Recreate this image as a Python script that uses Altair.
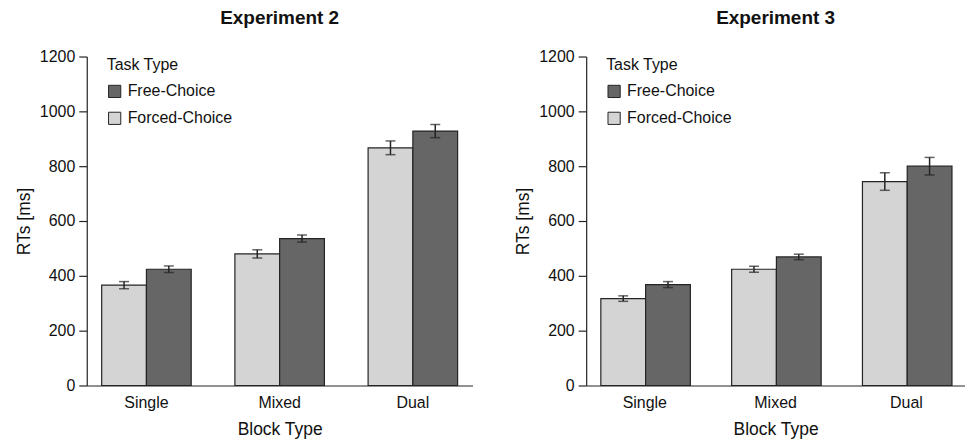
import altair as alt
import pandas as pd

blocks = ["Single", "Mixed", "Dual"]
tasks = ["Forced-Choice", "Free-Choice"]
legend_order = ["Free-Choice", "Forced-Choice"]

exp2_forced = [366, 480, 867]
exp2_free = [424, 536, 928]
exp2_forced_err = [13, 15, 25]
exp2_free_err = [12, 13, 24]

exp3_forced = [317, 424, 744]
exp3_free = [368, 469, 800]
exp3_forced_err = [10, 11, 32]
exp3_free_err = [11, 10, 32]

DARK = "#666666"
LIGHT = "#d4d4d4"
INK = "#242424"
FONT = "Liberation Sans"


def make_df(forced, free, forced_err, free_err):
    rows = []
    for i, b in enumerate(blocks):
        rows.append({"Block": b, "Task": "Forced-Choice", "RT": forced[i],
                     "lo": forced[i] - forced_err[i], "hi": forced[i] + forced_err[i]})
        rows.append({"Block": b, "Task": "Free-Choice", "RT": free[i],
                     "lo": free[i] - free_err[i], "hi": free[i] + free_err[i]})
    return pd.DataFrame(rows)


def panel(df, title, width):
    yscale = alt.Scale(domain=[0, 1200], nice=False)
    yaxis = alt.Axis(title="RTs [ms]", values=list(range(0, 1201, 200)), format="d",
                     grid=False, tickSize=8, labelPadding=4, titlePadding=6)
    base = alt.Chart(df).encode(
        x=alt.X("Block:N", sort=blocks,
                scale=alt.Scale(paddingInner=0.328, paddingOuter=0.112),
                axis=alt.Axis(title="Block Type", labelAngle=0, ticks=False,
                              labelPadding=9, titlePadding=10)),
        xOffset=alt.XOffset("Task:N", sort=tasks,
                            scale=alt.Scale(paddingInner=0, paddingOuter=0)),
    )
    bars = base.mark_bar(stroke=INK, strokeWidth=1.2).encode(
        y=alt.Y("RT:Q", scale=yscale, axis=yaxis, title="RTs [ms]"),
        color=alt.Color("Task:N",
                        scale=alt.Scale(domain=legend_order, range=[DARK, LIGHT]),
                        legend=alt.Legend(title="Task Type", orient="none",
                                          legendX=20, legendY=1,
                                          symbolType="square", symbolSize=150,
                                          symbolStrokeColor=INK, symbolStrokeWidth=1,
                                          symbolOpacity=1,
                                          rowPadding=9, titlePadding=10,
                                          labelOffset=5)),
    )
    rules = base.mark_rule(color=INK, strokeWidth=1.5).encode(
        y=alt.Y("lo:Q", scale=yscale, axis=yaxis, title="RTs [ms]"), y2="hi:Q")
    cap_lo = base.mark_tick(color=INK, thickness=1.5, size=10).encode(
        y=alt.Y("lo:Q", scale=yscale, axis=yaxis, title="RTs [ms]"))
    cap_hi = base.mark_tick(color=INK, thickness=1.5, size=10).encode(
        y=alt.Y("hi:Q", scale=yscale, axis=yaxis, title="RTs [ms]"))
    return alt.layer(bars, rules, cap_lo, cap_hi).properties(
        width=width, height=330,
        title=alt.TitleParams(title, fontSize=19, fontWeight="bold",
                              anchor="middle", offset=21, color="#111"))


df2 = make_df(exp2_forced, exp2_free, exp2_forced_err, exp2_free_err)
df3 = make_df(exp3_forced, exp3_free, exp3_forced_err, exp3_free_err)

chart = alt.hconcat(
    panel(df2, "Experiment 2", 387),
    panel(df3, "Experiment 3", 380),
    spacing=42,
).resolve_scale(color="independent").resolve_legend(color="independent").properties(
    padding={"left": 7, "top": 0, "right": 0, "bottom": 0}
).configure(font=FONT).configure_view(stroke=None).configure_axis(
    labelFont=FONT, titleFont=FONT, labelFontSize=16, titleFontSize=17.5,
    titleFontWeight="normal", labelColor="#111", titleColor="#111",
    domainColor=INK, tickColor=INK, domainWidth=1.2, tickWidth=1.2,
).configure_legend(
    labelFont=FONT, titleFont=FONT, labelFontSize=16, titleFontSize=16,
    titleFontWeight="normal", labelColor="#111", titleColor="#111",
).configure_title(font=FONT)

chart.save("out.html", embed_options={"renderer": "svg", "actions": False})
